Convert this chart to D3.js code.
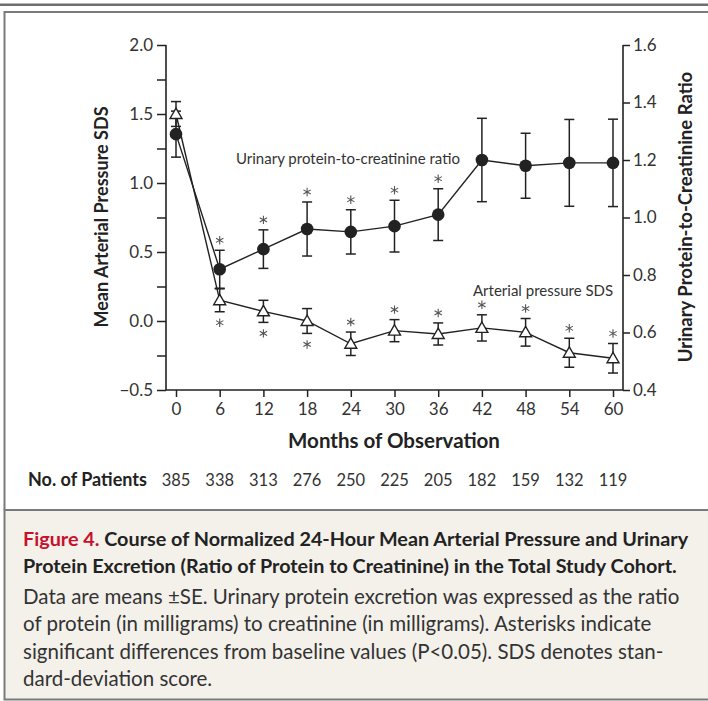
<!DOCTYPE html>
<html>
<head>
<meta charset="utf-8">
<script src="https://cdn.jsdelivr.net/npm/d3@7"></script>
<style>
  html, body { margin: 0; padding: 0; background: #fff; }
  svg { display: block; font-family: Lato, "Noto Sans", sans-serif; }
</style>
</head>
<body>
<svg id="chart" width="708" height="701"></svg>
<script>
// ---------- data ----------
const months = [0, 6, 12, 18, 24, 30, 36, 42, 48, 54, 60];
const patients = [385, 338, 313, 276, 250, 225, 205, 182, 159, 132, 119];
// Urinary protein-to-creatinine ratio (right axis), mean and SE
const proteinMean = [1.29, 0.82, 0.89, 0.96, 0.95, 0.97, 1.01, 1.20, 1.18, 1.19, 1.19];
const proteinSE   = [0.08, 0.066, 0.067, 0.094, 0.077, 0.09, 0.09, 0.145, 0.113, 0.151, 0.152];
// significance marks for protein: "above" / "" (none)
const proteinStar = ["", "above", "above", "above", "above", "above", "above", "", "", "", ""];
// Arterial pressure SDS (left axis), mean and SE
const pressureMean = [1.50, 0.15, 0.07, 0.00, -0.165, -0.07, -0.094, -0.05, -0.082, -0.23, -0.27];
const pressureSE   = [0.09, 0.083, 0.08, 0.09, 0.085, 0.08, 0.08, 0.095, 0.10, 0.105, 0.107];
const pressureStar = ["", "below", "below", "below", "above", "above", "above", "above", "above", "above", "above"];
const leftTicks = [-0.5, -0.25, 0, 0.25, 0.5, 0.75, 1.0, 1.25, 1.5, 1.75, 2.0];
const rightTicks = [0.4, 0.6, 0.8, 1.0, 1.2, 1.4, 1.6];

const svg = d3.select("#chart");
const ink = "#222";

// ---------- frame ----------
svg.append("rect").attr("x", 0).attr("y", 3.5).attr("width", 708).attr("height", 2.5).attr("fill", "#6e6e6e");
svg.append("path").attr("d", "M4.5,510 V12 H708").attr("fill", "none").attr("stroke", "#7a7a7a").attr("stroke-width", 2);
svg.append("rect").attr("x", 4.5).attr("y", 510).attr("width", 712).attr("height", 189.5)
  .attr("fill", "#f4f1eb").attr("stroke", "#7a7a7a").attr("stroke-width", 2);

// ---------- scales ----------
const x = d3.scaleLinear().domain([0, 60]).range([176, 613]);
const yL = d3.scaleLinear().domain([-0.5, 2.0]).range([390, 45]);
const yR = d3.scaleLinear().domain([0.4, 1.6]).range([390, 45]);
const xL = 166, xR = 623;

// ---------- axes ----------
const fmt1 = d3.format(".1f");
const axL = svg.append("g").attr("transform", `translate(${xL},0)`)
  .call(d3.axisLeft(yL).tickValues(leftTicks).tickSize(9).tickSizeOuter(0).tickPadding(4)
    .tickFormat(d => (Math.abs(d * 2 - Math.round(d * 2)) < 1e-6) ? (d < 0 ? "\u2212" + fmt1(-d) : fmt1(d)) : ""));
const axR = svg.append("g").attr("transform", `translate(${xR},0)`)
  .call(d3.axisRight(yR).tickValues(rightTicks).tickSize(7).tickSizeOuter(0).tickPadding(3).tickFormat(fmt1));
const axB = svg.append("g").attr("transform", `translate(0,390)`)
  .call(d3.axisBottom(x).tickValues(months).tickSize(7).tickSizeOuter(0).tickPadding(6).tickFormat(d3.format("d")));
[axL, axR, axB].forEach(g => {
  g.select(".domain").remove();
  g.selectAll(".tick line").attr("stroke", ink).attr("stroke-width", 1.5);
  g.selectAll(".tick text").attr("fill", "#333").style("font-size", "17px").style("font-family", "Lato, sans-serif");
});
// axis lines
svg.append("path").attr("d", `M${xL},45 V390 H${xR} V45`).attr("fill", "none").attr("stroke", ink).attr("stroke-width", 1.6);

// ---------- series ----------
const line = (ys, yS) => d3.line().x((d, i) => x(months[i])).y((d, i) => yS(ys[i]));
svg.append("path").datum(pressureMean).attr("d", line(pressureMean, yL)).attr("fill", "none").attr("stroke", ink).attr("stroke-width", 1.4);
svg.append("path").datum(proteinMean).attr("d", line(proteinMean, yR)).attr("fill", "none").attr("stroke", ink).attr("stroke-width", 1.4);

function errorBars(mean, se, yS) {
  const g = svg.append("g").attr("stroke", ink).attr("stroke-width", 1.5);
  months.forEach((m, i) => {
    const cx = x(m), y1 = yS(mean[i] + se[i]), y2 = yS(mean[i] - se[i]);
    g.append("line").attr("x1", cx).attr("x2", cx).attr("y1", y1).attr("y2", y2);
    g.append("line").attr("x1", cx - 5).attr("x2", cx + 5).attr("y1", y1).attr("y2", y1);
    g.append("line").attr("x1", cx - 5).attr("x2", cx + 5).attr("y1", y2).attr("y2", y2);
  });
}
errorBars(pressureMean, pressureSE, yL);
errorBars(proteinMean, proteinSE, yR);

// markers
const tri = d3.symbol().type(d3.symbolTriangle).size(62);
svg.append("g").selectAll("path").data(pressureMean).join("path")
  .attr("d", tri).attr("transform", (d, i) => `translate(${x(months[i])},${yL(d) + 1})`)
  .attr("fill", "#fff").attr("stroke", ink).attr("stroke-width", 1.4);
svg.append("g").selectAll("circle").data(proteinMean).join("circle")
  .attr("cx", (d, i) => x(months[i])).attr("cy", d => yR(d)).attr("r", 6.3).attr("fill", ink);

// asterisks
const star = d3.symbol().type(d3.symbolAsterisk).size(50);
function stars(mean, se, flags, yS) {
  months.forEach((m, i) => {
    if (!flags[i]) return;
    const cy = flags[i] === "above" ? yS(mean[i] + se[i]) - 10 : yS(mean[i] - se[i]) + 11;
    svg.append("path").attr("d", star).attr("transform", `translate(${x(m)},${cy})`)
      .attr("fill", "none").attr("stroke", "#555").attr("stroke-width", 1.1);
  });
}
stars(proteinMean, proteinSE, proteinStar, yR);
stars(pressureMean, pressureSE, pressureStar, yL);

// series labels
svg.append("text").attr("x", 236).attr("y", 164).attr("fill", "#333").style("font-size", "15px").text("Urinary protein-to-creatinine ratio");
svg.append("text").attr("x", 473).attr("y", 296).attr("fill", "#333").style("font-size", "15px").text("Arterial pressure SDS");

// axis titles
svg.append("text").attr("transform", "translate(108,217) rotate(-90)").attr("text-anchor", "middle")
  .attr("fill", ink).style("font-size", "18px").style("font-weight", "bold").text("Mean Arterial Pressure SDS");
svg.append("text").attr("transform", "translate(692,217) rotate(-90)").attr("text-anchor", "middle")
  .attr("fill", ink).style("font-size", "18.5px").style("font-weight", "bold").text("Urinary Protein-to-Creatinine Ratio");
svg.append("text").attr("x", 394).attr("y", 448).attr("text-anchor", "middle")
  .attr("fill", ink).style("font-size", "20.5px").style("font-weight", "bold").text("Months of Observation");

// patients row
svg.append("text").attr("x", 28).attr("y", 486).attr("fill", ink).style("font-size", "18px").style("font-weight", "bold").text("No. of Patients");
svg.append("g").selectAll("text").data(patients).join("text")
  .attr("x", (d, i) => x(months[i])).attr("y", 486).attr("text-anchor", "middle")
  .attr("fill", "#333").style("font-size", "16.5px").text(d => d);

// ---------- caption ----------
const cap = svg.append("g").style("font-size", "19.8px");
const t1 = cap.append("text").attr("x", 23).attr("y", 546).style("font-weight", "bold").attr("fill", ink);
t1.append("tspan").attr("fill", "#c8102e").text("Figure 4.");
t1.append("tspan").text(" Course of Normalized 24-Hour Mean Arterial Pressure and Urinary");
cap.append("text").attr("x", 23).attr("y", 573).style("font-weight", "bold").attr("fill", ink)
  .text("Protein Excretion (Ratio of Protein to Creatinine) in the Total Study Cohort.");
const body = [
  "Data are means \u00b1SE. Urinary protein excretion was expressed as the ratio",
  "of protein (in milligrams) to creatinine (in milligrams). Asterisks indicate",
  "significant differences from baseline values (P<0.05). SDS denotes stan-",
  "dard-deviation score."
];
cap.selectAll("text.body").data(body).join("text").attr("class", "body")
  .attr("x", 23).attr("y", (d, i) => 604 + i * 27.3).attr("fill", "#333").style("font-size", "20.5px").text(d => d);
</script>
</body>
</html>
